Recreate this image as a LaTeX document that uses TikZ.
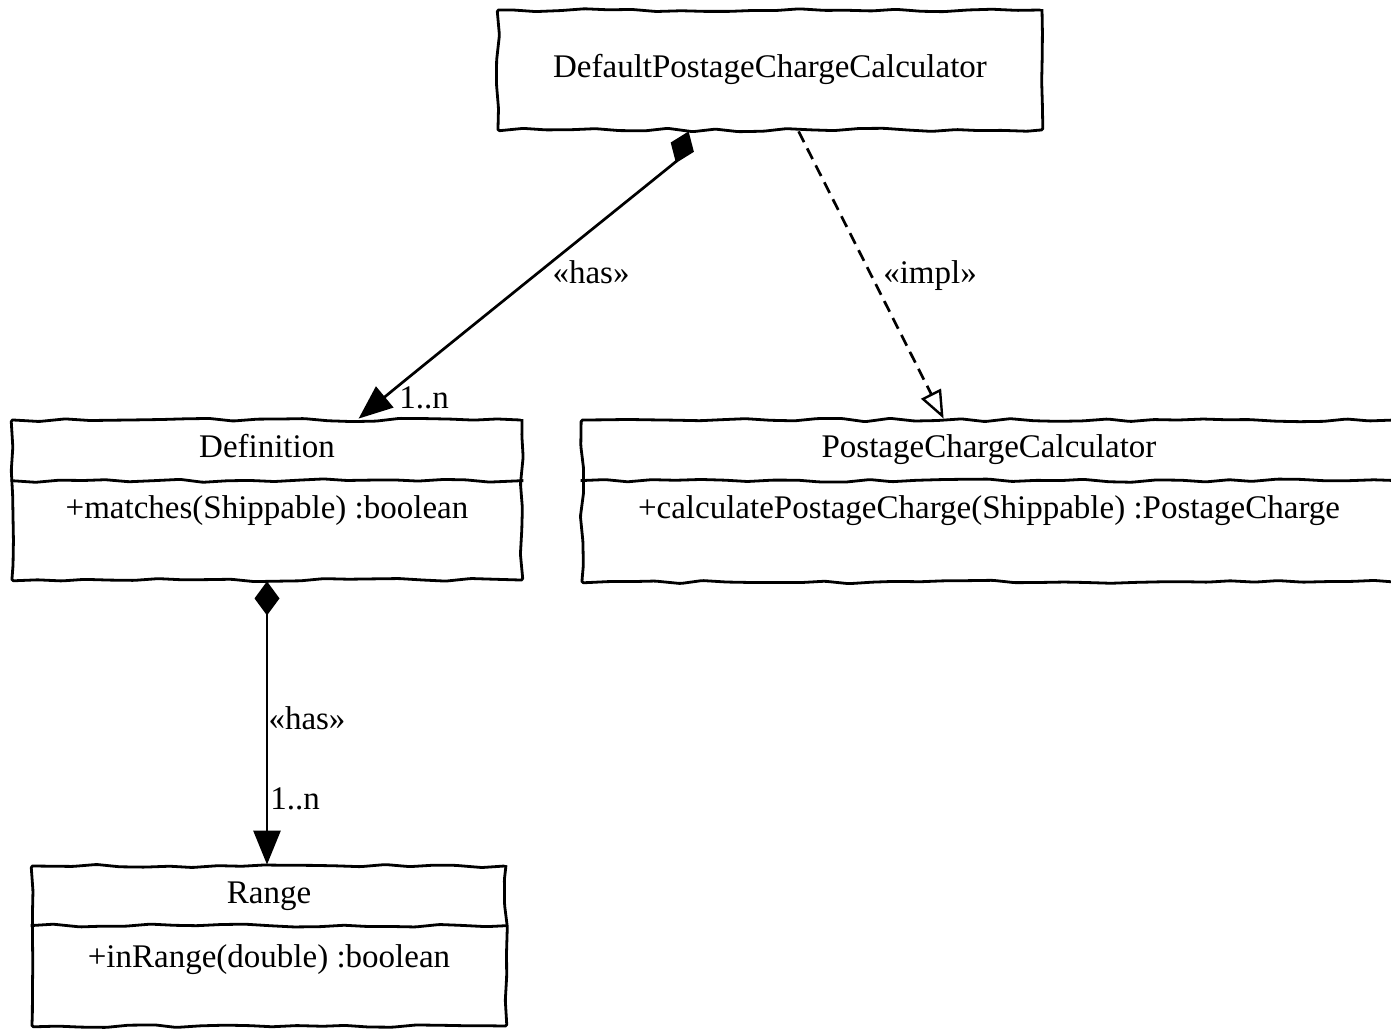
\documentclass[tikz,border=0pt]{standalone}
\usepackage{fontspec}
\setmainfont{Liberation Serif}
\usetikzlibrary{arrows.meta,decorations.pathmorphing}
\begin{document}
\begin{tikzpicture}[x=1pt,y=-1pt, font=\fontsize{33}{40}\selectfont,
  wavy/.style={decorate,decoration={random steps,segment length=24pt,amplitude=1.7pt},line width=2.8pt,line join=round,rounded corners=1.5pt},
  umlbox/.style={wavy,draw,inner sep=0pt},
  lbl/.style={anchor=base,inner sep=0pt},
  conn/.style={line width=2.7pt},
  comp/.style={conn,{Diamond[length=34pt,width=25pt]}-{Triangle[length=34pt,width=27pt]}},
  implarrow/.style={conn,dash pattern=on 12pt off 7pt,-{Triangle[open,length=28pt,width=22pt,line width=2.4pt]}}]
\pgfmathsetseed{7}
\useasboundingbox (0,0) rectangle (1391,1029);

% class boxes
\node[umlbox,minimum width=544pt,minimum height=120pt] (dpcc) at (770,70) {};
\node[lbl] (dpcct) at (770,77) {DefaultPostageChargeCalculator};

\node[umlbox,minimum width=510pt,minimum height=160pt] (def) at (267,500) {};
\node[lbl] (deft) at (267,457) {Definition};
\node[lbl] (defm) at (267,518) {+matches(Shippable) :boolean};
\draw[wavy] ([yshift=-62pt]def.north west) -- ([yshift=-62pt]def.north east);

\node[umlbox,minimum width=814pt,minimum height=162pt] (pcc) at (989,501) {};
\node[lbl] (pcct) at (989,457) {PostageChargeCalculator};
\node[lbl] (pccm) at (989,518) {+calculatePostageCharge(Shippable) :PostageCharge};
\draw[wavy] ([yshift=-62pt]pcc.north west) -- ([yshift=-62pt]pcc.north east);

\node[umlbox,minimum width=474pt,minimum height=160pt] (range) at (269,946) {};
\node[lbl] (ranget) at (269,903) {Range};
\node[lbl] (rangem) at (269,967) {+inRange(double) :boolean};
\draw[wavy] ([yshift=-61pt]range.north west) -- ([yshift=-61pt]range.north east);

% connectors
\draw[comp] ([xshift=192pt]dpcc.south west) .. controls +(-12,30) and +(70,-58) .. ([xshift=348pt]def.north west);
\draw[implarrow] ([xshift=302pt]dpcc.south west) -- ([xshift=363pt]pcc.north west);
\draw[comp] (def.south) -- (def.south |- range.north);

% labels
\node[lbl] (l1) at (591,283) {«has»};
\node[lbl] (m1) at (424,408) {1..n};
\node[lbl] (l2) at (930,283) {«impl»};
\node[lbl] (l3) at (307,729) {«has»};
\node[lbl] (m3) at (295,809) {1..n};
\end{tikzpicture}
\end{document}
